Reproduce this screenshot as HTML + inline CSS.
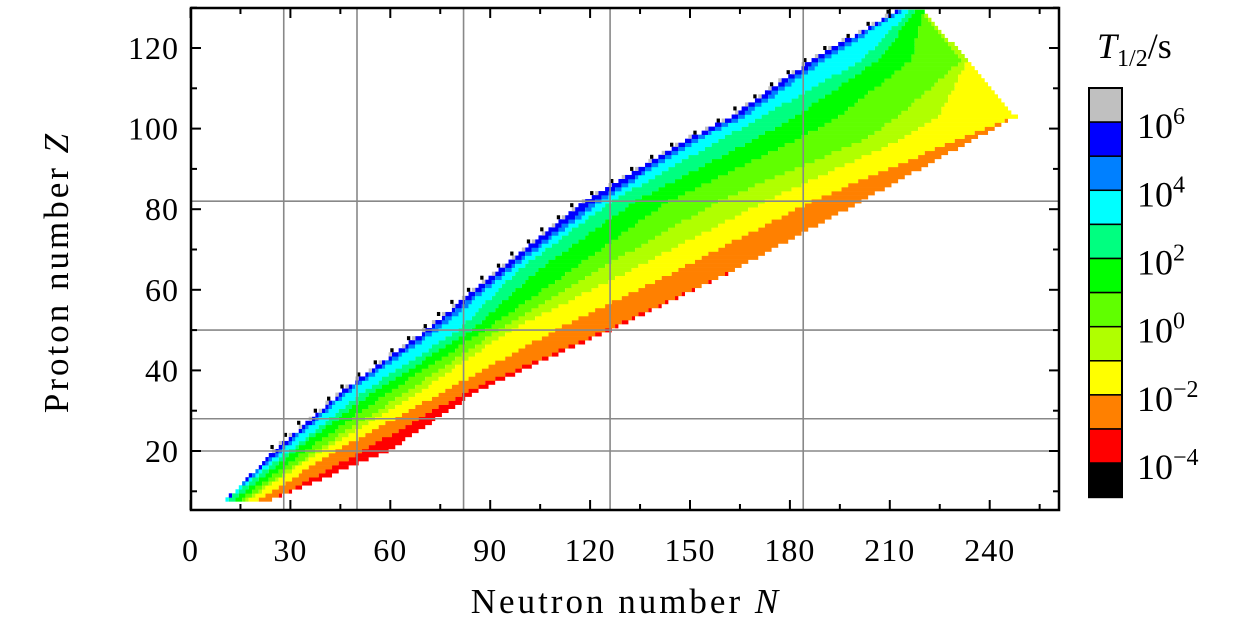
<!DOCTYPE html>
<html><head><meta charset="utf-8"><style>
html,body{margin:0;padding:0;background:#fff;}
svg{display:block;font-family:"Liberation Serif",serif;}
</style></head><body>
<svg id="chart" width="1260" height="630" viewBox="0 0 1260 630">
<g id="cells"></g>
<g id="grid"></g>
<g id="axes"></g>
<g id="cbar"></g>
<text x="626" y="613" text-anchor="middle" font-size="35" letter-spacing="3">Neutron number <tspan font-style="italic">N</tspan></text>
<text transform="translate(68,272) rotate(-90)" text-anchor="middle" font-size="35" letter-spacing="3">Proton number <tspan font-style="italic">Z</tspan></text>
<text x="1097" y="58" font-size="36"><tspan font-style="italic">T</tspan><tspan font-size="24" dy="8">1/2</tspan><tspan dy="-8">/s</tspan></text>
</svg>
<script>
// ---- data ----
const bandColors = ["#0000ff","#0080ff","#00ffff","#00ff80","#00ff00","#60ff00","#b0ff00","#ffff00","#ff8000","#ff0000"];
const sampleZ = [8, 20, 35, 50, 65, 82, 97, 103, 117, 129];
const leftN   = [11.2, 25.7, 46.4, 71.3, 93, 119, 149, 163, 187, 212];
// band end N per sample row: blue, dodger, cyan, spring, green, lime, yellowgreen, yellow, orange, red
const bandEnds = [
 [11.2,11.2,11.5,13.5,15.5,17,18,21,25,25],
 [27,28,30,31.5,35,38,39.5,44,52,60],
 [47.5,48.5,52.8,56,60.8,66,69.8,77,84,87],
 [73,75,81,85,89,93,96.5,110,125,126.6],
 [95,96.5,99,105,115,123,133,147,164,164],
 [122,124,127,134,144,159,173,187,202,202],
 [151,152.5,159,169,182,202,213,230,235,235],
 [165,167,172,182,195,213,225,248.5,248.5,248.5],
 [189,191,202,207,217,232,234,234,234,234],
 [213,214,216,218,220.5,220.5,220.5,220.5,220.5,220.5]
];
const xTicks = [0,30,60,90,120,150,180,210,240];
const yTicks = [20,40,60,80,100,120];
const magicN = [28,50,82,126,184];
const magicZ = [20,28,50,82];
const cbColors = ["#c0c0c0","#0000ff","#0080ff","#00ffff","#00ff80","#00ff00","#60ff00","#b0ff00","#ffff00","#ff8000","#ff0000","#000000"];
const cbLabels = ["6","4","2","0","\u22122","\u22124"];

// ---- scales ----
const X0=191, X1=1059, Y0=8, Y1=510;
const xs = n => 190.5 + n*3.33;
const ys = z => 451 - (z-20)*4.03;
const NS="http://www.w3.org/2000/svg";
function mk(tag, attrs, parent){const e=document.createElementNS(NS,tag);for(const k in attrs)e.setAttribute(k,attrs[k]);parent.appendChild(e);return e;}
function interp(arrZ, vals, z){
  for(let i=0;i<arrZ.length-1;i++){ if(z>=arrZ[i]&&z<=arrZ[i+1]){const t=(z-arrZ[i])/(arrZ[i+1]-arrZ[i]);return vals[i]+(vals[i+1]-vals[i])*t;} }
  return vals[vals.length-1];
}
const cells=document.getElementById('cells');
const ch=4.03;
for(let z=8; z<=129; z++){
  let prev = Math.round(interp(sampleZ,leftN,z));
  for(let b=0;b<bandColors.length;b++){
    const e = Math.round(interp(sampleZ, bandEnds.map(r=>r[b]), z));
    if(e>prev){
      const r=mk('rect',{x:xs(prev-0.5),y:ys(z)-ch/2,width:(e-prev)*3.33,height:ch+0.3,fill:bandColors[b]},cells);
      
      
      prev=e;
    }
  }
  const L=Math.round(interp(sampleZ,leftN,z));
  if(z>18 && z%2===0){
    const g=mk('rect',{x:xs(L-1.5),y:ys(z)-2,width:3.3,height:4,fill:"#c0c0c0"},cells);
    
    
  }
  if(z>18 && z%3===0){
    const k=mk('rect',{x:xs(L-3),y:ys(z)-2,width:3.3,height:4,fill:"#000"},cells);
    
    
  }
}
const grid=document.getElementById('grid');
magicN.forEach(n=>{const l=mk('line',{x1:xs(n),x2:xs(n),y1:Y0,y2:Y1,stroke:"#888",'stroke-width':1.6},grid);
 
 });
magicZ.forEach(z=>{const l=mk('line',{x1:X0,x2:X1,y1:ys(z),y2:ys(z),stroke:"#888",'stroke-width':1.6},grid);
 
 });
const ax=document.getElementById('axes');
const fr=mk('rect',{x:X0,y:Y0,width:X1-X0,height:Y1-Y0,fill:"none",stroke:"#000",'stroke-width':2.5},ax);


for(let n=0;n<=255;n+=15){
  const len = n%30===0?10:6;
  mk('line',{x1:xs(n),x2:xs(n),y1:Y1,y2:Y1-len,stroke:"#000",'stroke-width':2},ax);
  mk('line',{x1:xs(n),x2:xs(n),y1:Y0,y2:Y0+len,stroke:"#000",'stroke-width':2},ax);
}
for(let z=10;z<=130;z+=10){
  const len = z%20===0?10:6;
  mk('line',{x1:X0,x2:X0+len,y1:ys(z),y2:ys(z),stroke:"#000",'stroke-width':2},ax);
  mk('line',{x1:X1,x2:X1-len,y1:ys(z),y2:ys(z),stroke:"#000",'stroke-width':2},ax);
}
xTicks.forEach(n=>{const t=mk('text',{x:xs(n),y:561,'text-anchor':'middle','font-size':32,'letter-spacing':1},ax);t.textContent=n;
 
 });
yTicks.forEach(z=>{const t=mk('text',{x:179,y:ys(z)+11,'text-anchor':'end','font-size':32,'letter-spacing':1},ax);t.textContent=z;
 
 });
const cb=document.getElementById('cbar');
const cbTop=88, cbH=34.1;
cbColors.forEach((c,i)=>{const r=mk('rect',{x:1089,y:cbTop+i*cbH,width:33,height:cbH,fill:c,stroke:"#000",'stroke-width':1.5},cb);
 
 });
mk('rect',{x:1089,y:cbTop,width:33,height:cbH*12,fill:"none",stroke:"#000",'stroke-width':2},cb);
cbLabels.forEach((s,i)=>{const y=cbTop+(2*i+1)*cbH+16;
 const t=mk('text',{x:1137,y:y,'font-size':36},cb);
 
 
 t.textContent='10';
 const sp=mk('tspan',{dy:-14,'font-size':24},t); sp.textContent=s;});
</script>
</body></html>
